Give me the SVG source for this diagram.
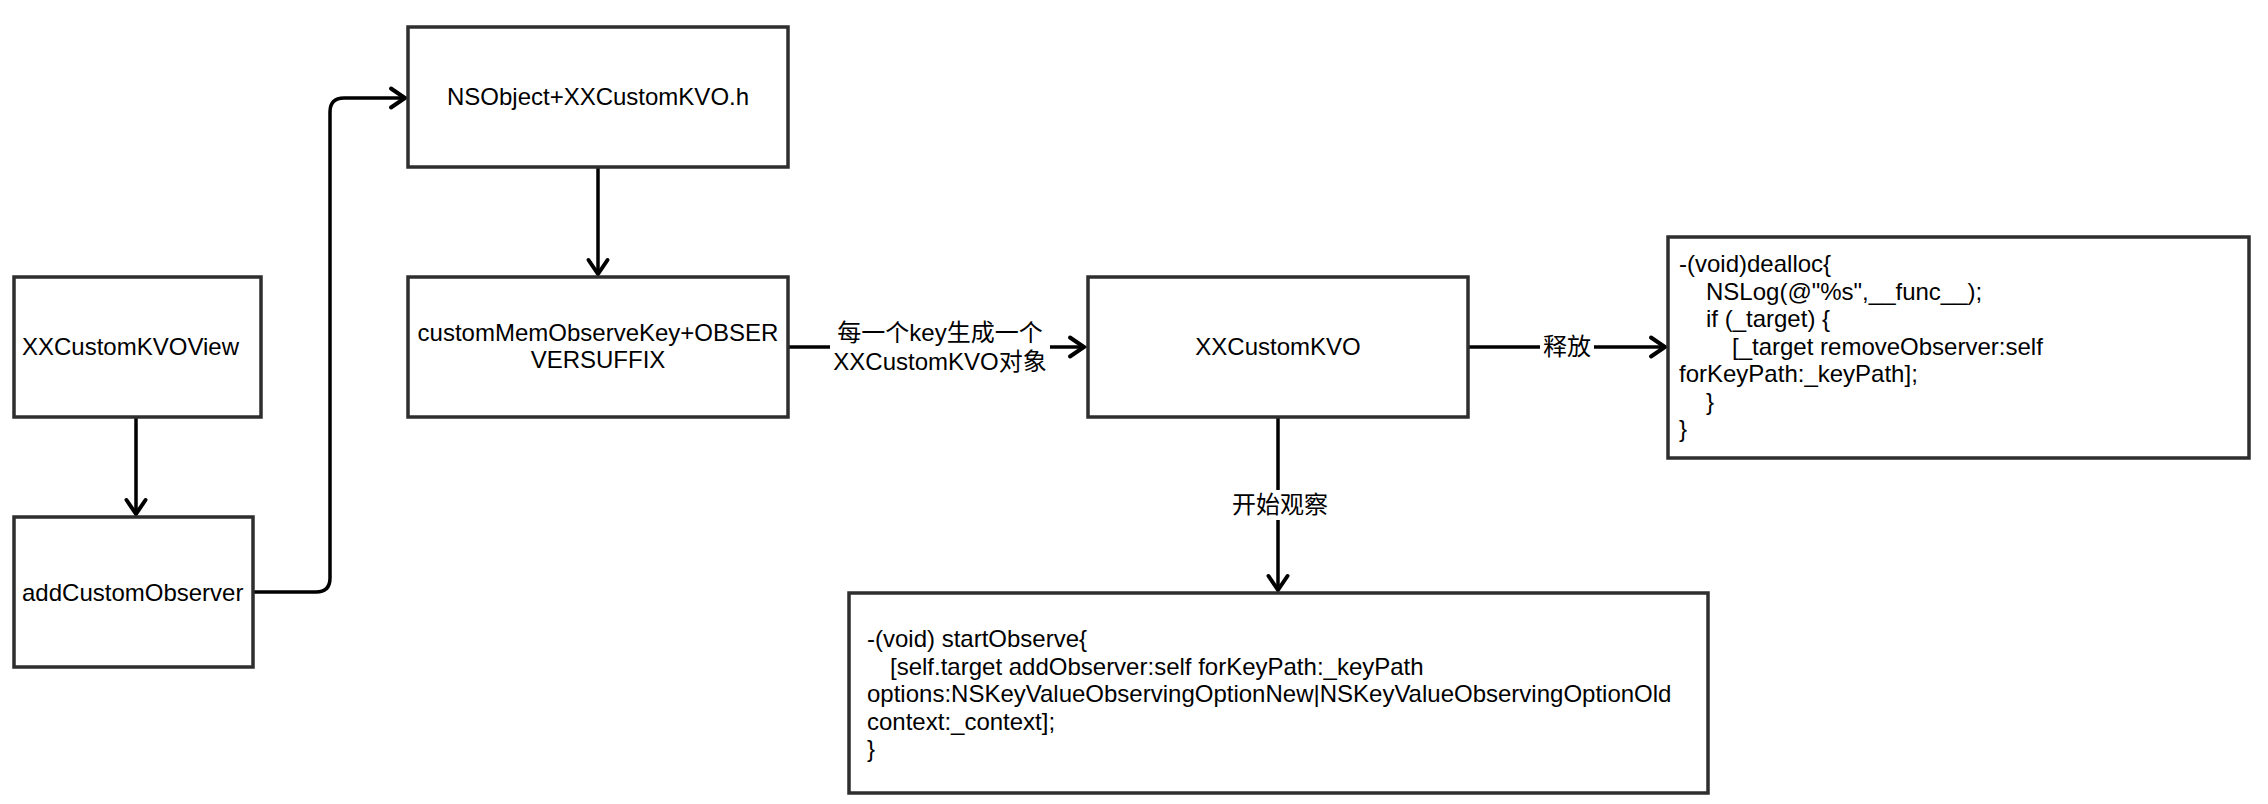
<svg xmlns="http://www.w3.org/2000/svg" width="2268" height="804" viewBox="0 0 2268 804">
<style>
.box{fill:#ffffff;stroke:#2e2e2e;stroke-width:3.5}
.t{font-family:"Liberation Sans","Noto Sans CJK SC",Arial,sans-serif;font-size:24px;fill:#000}
.c{text-anchor:middle}
.edge{fill:none;stroke:#000;stroke-width:3.5;stroke-linejoin:round}
.lbg{fill:#ffffff;stroke:none}
</style>
<defs>
<marker id="arr" markerUnits="userSpaceOnUse" markerWidth="30" markerHeight="30" viewBox="-20 -15 30 30" refX="0" refY="0" orient="auto">
<path d="M -14 -9.5 L 0 0 L -14 9.5" fill="none" stroke="#000" stroke-width="4" stroke-linejoin="miter" stroke-linecap="round"/>
</marker>
</defs>
<rect width="2268" height="804" fill="#ffffff"/>
<g id="connectors">
<path class="edge" d="M 136 417 L 136 514" marker-end="url(#arr)"/>
<path class="edge" d="M 253 592 L 316 592 Q 330 592 330 578 L 330 112 Q 330 98 344 98 L 405 98" marker-end="url(#arr)"/>
<path class="edge" d="M 598 167 L 598 274" marker-end="url(#arr)"/>
<path class="edge" d="M 788 347 L 1084 347" marker-end="url(#arr)"/>
<path class="edge" d="M 1468 347 L 1665 347" marker-end="url(#arr)"/>
<path class="edge" d="M 1278 417 L 1278 590" marker-end="url(#arr)"/>
<rect class="lbg" x="830" y="318" width="220" height="58"/>
<text class="t c" x="940" y="341">每一个key生成一个</text>
<text class="t c" x="940" y="370">XXCustomKVO对象</text>
<rect class="lbg" x="1540" y="334" width="54" height="28"/>
<text class="t c" x="1567" y="355">释放</text>
<rect class="lbg" x="1230" y="490" width="100" height="30"/>
<text class="t c" x="1280" y="513">开始观察</text>
</g>
<g id="node-view">
<rect class="box" x="14" y="277" width="247" height="140"/>
<text class="t" x="22" y="355">XXCustomKVOView</text>
</g>
<g id="node-add">
<rect class="box" x="14" y="517" width="239" height="150"/>
<text class="t" x="22" y="601">addCustomObserver</text>
</g>
<g id="node-nsobject">
<rect class="box" x="408" y="27" width="380" height="140"/>
<text class="t c" x="598" y="105">NSObject+XXCustomKVO.h</text>
</g>
<g id="node-key">
<rect class="box" x="408" y="277" width="380" height="140"/>
<text class="t c" x="598" y="341">customMemObserveKey+OBSER</text>
<text class="t c" x="598" y="368">VERSUFFIX</text>
</g>
<g id="node-kvo">
<rect class="box" x="1088" y="277" width="380" height="140"/>
<text class="t c" x="1278" y="355">XXCustomKVO</text>
</g>
<g id="node-dealloc">
<rect class="box" x="1668" y="237" width="581" height="221"/>
<text class="t" x="1679" y="272">-(void)dealloc{</text>
<text class="t" x="1706" y="299.5">NSLog(@"%s",__func__);</text>
<text class="t" x="1706" y="327">if (_target) {</text>
<text class="t" x="1732" y="354.5">[_target removeObserver:self</text>
<text class="t" x="1679" y="382">forKeyPath:_keyPath];</text>
<text class="t" x="1706" y="409.5">}</text>
<text class="t" x="1679" y="437">}</text>
</g>
<g id="node-start">
<rect class="box" x="849" y="593" width="859" height="200"/>
<text class="t" x="867" y="647">-(void) startObserve{</text>
<text class="t" x="890" y="674.5">[self.target addObserver:self forKeyPath:_keyPath</text>
<text class="t" x="867" y="702">options:NSKeyValueObservingOptionNew|NSKeyValueObservingOptionOld</text>
<text class="t" x="867" y="729.5">context:_context];</text>
<text class="t" x="867" y="757">}</text>
</g>
</svg>
